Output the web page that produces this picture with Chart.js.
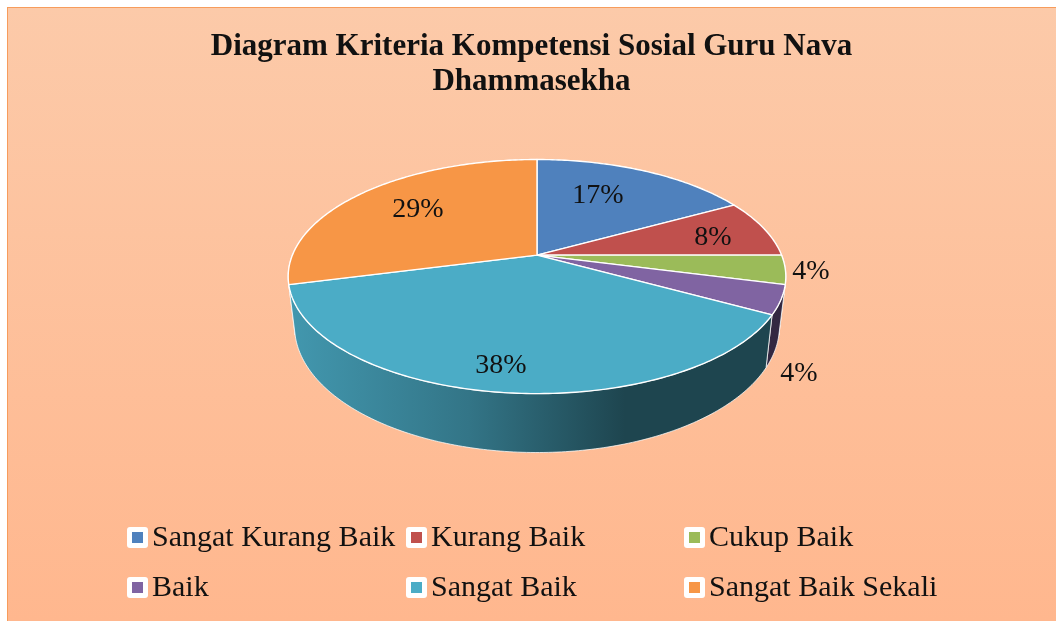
<!DOCTYPE html>
<html>
<head>
<meta charset="utf-8">
<script src="https://cdn.jsdelivr.net/npm/chart.js@4"></script>
<style>
  html, body { margin: 0; padding: 0; background: #fff; }
  #wrap { position: absolute; left: 0; top: 0; width: 1056px; height: 621px; }
</style>
</head>
<body>
<div id="wrap"><canvas id="pieChart" width="1056" height="621"></canvas></div>
<script>
const titleLines = ["Diagram Kriteria Kompetensi Sosial Guru Nava", "Dhammasekha"];
const categories = ["Sangat Kurang Baik", "Kurang Baik", "Cukup Baik", "Baik", "Sangat Baik", "Sangat Baik Sekali"];
const percents = [17, 8, 4, 4, 38, 29];
const sliceColors = ["#4F81BD", "#C0504D", "#9BBB59", "#8064A2", "#4BACC6", "#F79646"];

// where the percent labels sit, relative to the pie centre (placed by hand like in the original)
const labelOffsets = [[61, -60], [176, -18], [274, 16], [262, 118], [-36, 110], [-119, -46]];
// legend grid
const legendCols = [127, 406, 684];
const legendRows = [527, 577];

const serif = "'Liberation Serif', serif";

// perspective of the pie, all relative to the radius chart.js works out
const stretchX = 246.5 / 150;
const stretchY = 114 / 150;
const depthK = 0.183;
const wallDrop = 48.5 / 150;
const wallShrink = 0.0256;
const shiftX = 5.5; // title centres on the panel, pie sits a bit right of it

function project(arc, angle, lower) {
  const u = Math.cos(angle), v = Math.sin(angle);
  const w = 1 / (1 - depthK * v);
  let x = arc.outerRadius * stretchX * u * w;
  let y = arc.outerRadius * stretchY * v * w;
  if (lower) {
    x = x * (1 - wallShrink);
    y = y + arc.outerRadius * wallDrop * w;
  }
  return [arc.x + shiftX + x, arc.y + y];
}

function shade(hex, f) {
  const n = parseInt(hex.slice(1), 16);
  const r = Math.round((n >> 16) * f), g = Math.round(((n >> 8) & 255) * f), b = Math.round((n & 255) * f);
  return "rgb(" + r + "," + g + "," + b + ")";
}

function wallFill(ctx, arc, color) {
  const left = project(arc, Math.PI, false)[0];
  const right = project(arc, 0, false)[0];
  const g = ctx.createLinearGradient(left, 0, right, 0);
  g.addColorStop(0, shade(color, 0.88));
  g.addColorStop(0.36, shade(color, 0.68));
  g.addColorStop(0.68, shade(color, 0.4));
  g.addColorStop(1, shade(color, 0.4));
  return g;
}

function arcPoints(arc, from, to, lower) {
  const pts = [];
  const steps = Math.max(2, Math.ceil((to - from) / 0.015));
  for (let i = 0; i <= steps; i++) pts.push(project(arc, from + (to - from) * i / steps, lower));
  return pts;
}

function tracePath(ctx, pts) {
  ctx.beginPath();
  pts.forEach((p, i) => i ? ctx.lineTo(p[0], p[1]) : ctx.moveTo(p[0], p[1]));
  ctx.closePath();
}

const panelPlugin = {
  id: "panel",
  beforeDraw(chart) {
    const ctx = chart.ctx;
    const g = ctx.createLinearGradient(0, 7, 0, 621);
    g.addColorStop(0, "#fccaa9");
    g.addColorStop(1, "#ffb78e");
    ctx.save();
    ctx.fillStyle = "#fff";
    ctx.fillRect(0, 0, chart.width, chart.height);
    ctx.fillStyle = g;
    ctx.fillRect(7, 7, chart.width - 7, chart.height - 7);
    ctx.fillStyle = "#f79c5c";
    ctx.fillRect(7, 7, chart.width - 7, 1);
    ctx.fillRect(7, 7, 1, chart.height - 7);
    ctx.restore();
  }
};

const pie3dPlugin = {
  id: "pie3d",
  beforeDatasetsDraw(chart) {
    const ctx = chart.ctx;
    const arcs = chart.getDatasetMeta(0).data;
    ctx.save();
    ctx.lineJoin = "round";

    // side walls first, back slices before front ones
    const order = arcs.map((a, i) => i).sort((p, q) => {
      const mid = a => Math.sin((a.startAngle + a.endAngle) / 2);
      return mid(arcs[p]) - mid(arcs[q]);
    });
    order.forEach(i => {
      const arc = arcs[i];
      const top = arcPoints(arc, arc.startAngle, arc.endAngle, false);
      const low = arcPoints(arc, arc.startAngle, arc.endAngle, true);
      tracePath(ctx, top.concat(low.reverse()));
      ctx.fillStyle = wallFill(ctx, arc, sliceColors[i]);
      ctx.fill();
      ctx.strokeStyle = "rgba(255,255,255,0.75)";
      ctx.lineWidth = 1;
      ctx.stroke();
    });

    // top faces
    arcs.forEach((arc, i) => {
      const top = arcPoints(arc, arc.startAngle, arc.endAngle, false);
      tracePath(ctx, [[arc.x + shiftX, arc.y]].concat(top));
      ctx.fillStyle = sliceColors[i];
      ctx.fill();
      ctx.strokeStyle = "#fff";
      ctx.lineWidth = 1.4;
      ctx.stroke();
    });
    ctx.restore();
    return false; // replaces the flat pie
  }
};

// percent labels and the legend grid, on top of everything
const labelsPlugin = {
  id: "labels",
  afterDraw(chart) {
    const ctx = chart.ctx;
    const arc = chart.getDatasetMeta(0).data[0];
    ctx.save();
    ctx.fillStyle = "#111";
    ctx.font = "28px " + serif;
    ctx.textAlign = "center";
    ctx.textBaseline = "middle";
    percents.forEach((p, i) => {
      ctx.fillText(p + "%", arc.x + shiftX + labelOffsets[i][0], arc.y + labelOffsets[i][1]);
    });

    ctx.font = "30px " + serif;
    ctx.textAlign = "left";
    ctx.textBaseline = "alphabetic";
    chart.data.labels.forEach((label, i) => {
      const x = legendCols[i % 3];
      const y = legendRows[Math.floor(i / 3)];
      ctx.fillStyle = "#fff";
      ctx.beginPath();
      ctx.roundRect(x, y, 21, 21, 3);
      ctx.fill();
      ctx.fillStyle = sliceColors[i];
      ctx.fillRect(x + 5, y + 5, 11, 11);
      ctx.fillStyle = "#111";
      ctx.fillText(label, x + 25, y + 19);
    });
    ctx.restore();
  }
};

new Chart(document.getElementById("pieChart").getContext("2d"), {
  type: "pie",
  data: {
    labels: categories,
    datasets: [{
      data: percents,
      backgroundColor: sliceColors
    }]
  },
  options: {
    responsive: false,
    animation: false,
    layout: { padding: { left: 7, right: 0, top: 0, bottom: 216 } },
    plugins: {
      legend: { display: false },
      tooltip: { enabled: false },
      title: {
        display: true,
        text: titleLines,
        color: "#111",
        font: { family: serif, size: 31, weight: "bold", lineHeight: 1.15 },
        padding: { top: 29, bottom: 5 }
      }
    }
  },
  plugins: [panelPlugin, pie3dPlugin, labelsPlugin]
});
</script>
</body>
</html>
